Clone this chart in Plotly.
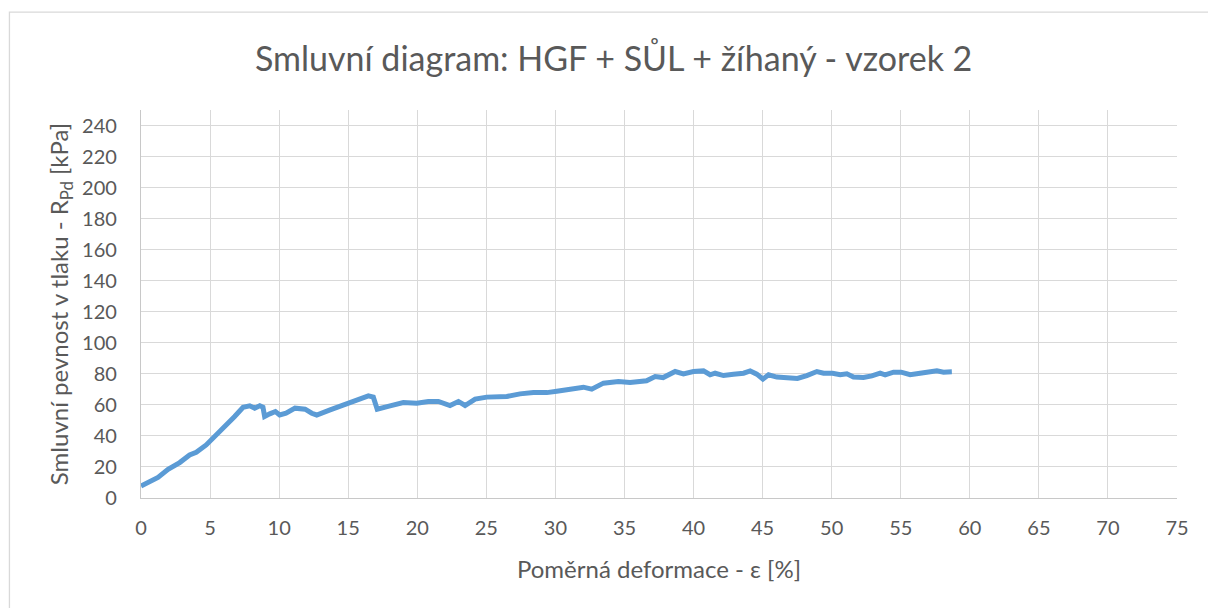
import plotly.graph_objects as go

# Strain [%] and engineering compressive strength [kPa]
strain = [0, 1.23, 1.96, 2.8, 3.52, 4.0, 4.72, 5.57, 6.1, 6.78, 7.39, 7.87, 8.23, 8.6, 8.83,
          8.95, 9.32, 9.73, 10.04, 10.5, 11.15, 11.88, 12.36, 12.72, 13.69, 14.9, 15.86,
          16.46, 16.82, 17.1, 18.03, 18.99, 19.96, 20.8, 21.53, 22.0, 22.37, 22.98, 23.46,
          24.19, 25.03, 26.48, 27.44, 28.41, 29.38, 30.1, 31.06, 32.03, 32.63, 33.48, 34.56,
          35.41, 36.6, 37.22, 37.8, 38.67, 39.27, 39.99, 40.72, 41.2, 41.56, 42.17, 42.89,
          43.62, 44.1, 44.58, 45.02, 45.43, 46.03, 46.87, 47.52, 48.2, 48.93, 49.41, 50.06,
          50.62, 51.1, 51.58, 52.3, 52.91, 53.51, 53.87, 54.48, 55.03, 55.68, 56.4, 57.13,
          57.62, 58.1, 58.7]
stress = [7.7, 13.3, 18.5, 22.8, 27.7, 29.5, 34.2, 41.7, 45.6, 52.5, 58.5, 59.4, 57.9, 59.4,
          58.5, 52.5, 54.2, 55.7, 53.5, 54.6, 57.9, 57.2, 54.6, 53.5, 56.8, 60.6, 64.3, 65.8,
          65.0, 57.2, 59.4, 61.5, 61.1, 62.2, 62.2, 60.6, 59.6, 62.2, 59.6, 63.7, 65.0, 65.4,
          67.1, 67.9, 67.9, 68.8, 70.3, 71.4, 70.1, 74.0, 75.0, 74.4, 75.5, 78.3, 77.6, 81.5,
          80.0, 81.5, 81.9, 79.4, 80.4, 78.9, 79.8, 80.4, 81.9, 79.8, 76.6, 79.4, 77.9, 77.6,
          77.0, 78.9, 81.5, 80.4, 80.4, 79.4, 80.0, 77.9, 77.6, 78.7, 80.4, 79.4, 81.1, 81.1,
          79.4, 80.4, 80.9, 81.9, 81.1, 81.3]

x_ticks = list(range(0, 80, 5))
y_ticks = list(range(0, 260, 20))

TEXT = "#595959"
GRID = "#D9D9D9"
FONT = "Lato"

fig = go.Figure()
fig.add_trace(go.Scatter(
    x=strain, y=stress, mode="lines",
    line=dict(color="#5B9BD5", width=5),
    hoverinfo="x+y", showlegend=False,
))

fig.update_layout(
    width=1208, height=608,
    margin=dict(l=141, r=31, t=110, b=110),
    paper_bgcolor="white", plot_bgcolor="white",
    font=dict(family=FONT, color=TEXT, size=20),
    title=dict(
        text="Smluvní diagram: HGF + SŮL + žíhaný - vzorek 2",
        x=0.508, xanchor="center", y=0.902, yanchor="middle",
        font=dict(size=34, color=TEXT, family=FONT),
    ),
    xaxis=dict(
        range=[0, 75], tickvals=x_ticks, ticktext=[str(v) for v in x_ticks],
        showgrid=True, gridcolor=GRID, gridwidth=1.3,
        showline=True, linecolor="#C8C8C8", linewidth=1.3,
        zeroline=False, ticks="", ticklabelstandoff=12,
        tickfont=dict(size=20, color=TEXT),
        title=dict(text="Poměrná deformace - ε [%]", font=dict(size=24, color=TEXT), standoff=23),
    ),
    yaxis=dict(
        range=[0, 250], tickvals=y_ticks, ticktext=[str(v) for v in y_ticks],
        showgrid=True, gridcolor=GRID, gridwidth=1.3,
        showline=True, linecolor="#C8C8C8", linewidth=1.3,
        zeroline=False, ticks="", ticklabelstandoff=19,
        tickfont=dict(size=20, color=TEXT),
        title=dict(text="Smluvní pevnost v tlaku - R<sub>Pd</sub> [kPa]",
                   font=dict(size=24, color=TEXT), standoff=6),
    ),
)

# Chart-area frame
fig.add_shape(type="rect", xref="paper", yref="paper",
              x0=-0.127, x1=1.2, y0=-0.5, y1=1.252,
              line=dict(color="#D9D9D9", width=1.3), layer="below")

fig.write_html("out.html")
